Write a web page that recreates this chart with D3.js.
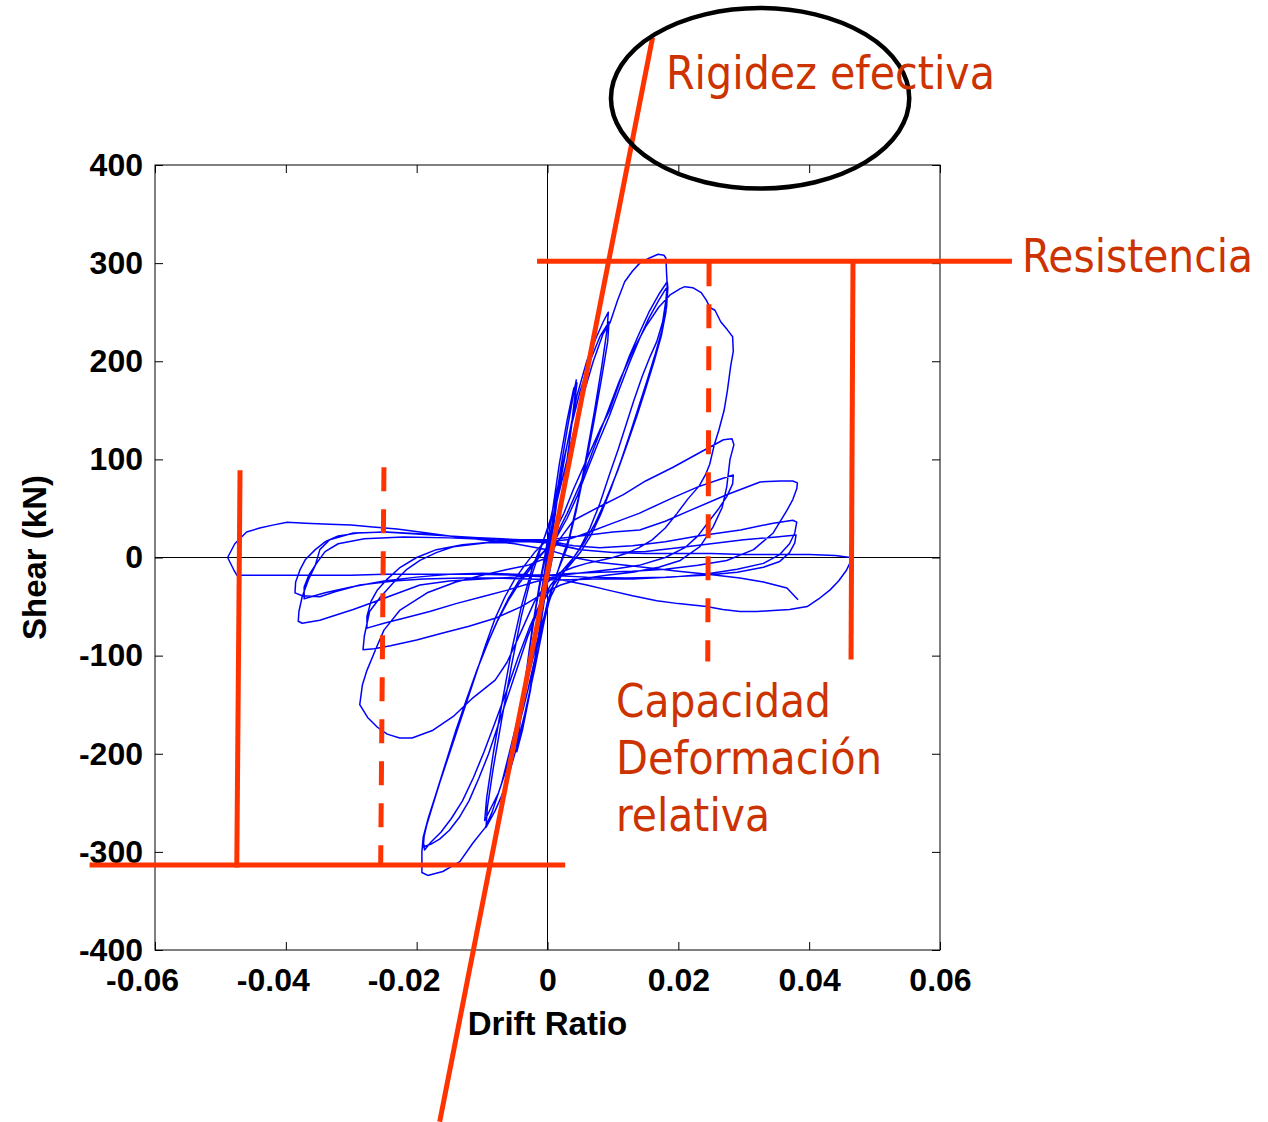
<!DOCTYPE html>
<html><head><meta charset="utf-8">
<script src="https://cdn.jsdelivr.net/npm/d3@7/dist/d3.min.js"></script>
<style>body{margin:0;background:#fff}</style>
</head><body>
<svg id="c" width="1268" height="1122"></svg>
<script>
// ---------- axes ----------
const xTicks = [-0.06, -0.04, -0.02, 0, 0.02, 0.04, 0.06];
const xTickLabels = ["-0.06", "-0.04", "-0.02", "0", "0.02", "0.04", "0.06"];
const yTicks = [-400, -300, -200, -100, 0, 100, 200, 300, 400];
const yTickLabels = ["-400", "-300", "-200", "-100", "0", "100", "200", "300", "400"];
const xTitle = "Drift Ratio";
const yTitle = "Shear (kN)";

// ---------- hysteresis (drift ratio, shear kN), in loading order ----------
const cycle1 = [[0,0],[0.0008,35],[0.0016,70],[0.0022,95],[0.0018,75],[0.001,35],[0.0003,5],[-0.0005,-25],[-0.0013,-60],[-0.0021,-95],[-0.0018,-75],[-0.001,-38],[-0.0003,-8],[0.0004,20],[0.0012,55],[0.002,88],[0.0016,65],[0.0007,25],[0,-5],[-0.0008,-40],[-0.0017,-78],[-0.0022,-98],[-0.0017,-70],[-0.0008,-30],[0,5]];
const cycle2 = [[0,5],[0.001,45],[0.002,90],[0.003,130],[0.0038,160],[0.0044,181],[0.0042,165],[0.0034,120],[0.0024,70],[0.0014,25],[0.0006,-5],[-0.0004,-40],[-0.0014,-85],[-0.0026,-135],[-0.0038,-175],[-0.0047,-198],[-0.0044,-180],[-0.0035,-130],[-0.0024,-75],[-0.0013,-30],[-0.0004,2],[0.0006,40],[0.0018,95],[0.003,140],[0.004,172],[0.0045,178],[0.0041,155],[0.003,100],[0.0018,45],[0.0007,5],[-0.0003,-30],[-0.0015,-85],[-0.0028,-140],[-0.004,-180],[-0.0048,-195],[-0.0043,-170],[-0.0032,-115],[-0.002,-60],[-0.0008,-15],[0,10]];
const cycle3 = [[0,10],[0.0015,60],[0.003,115],[0.0045,165],[0.006,200],[0.0075,225],[0.0085,240],[0.0093,250],[0.0091,232],[0.0083,195],[0.0072,150],[0.006,105],[0.0047,60],[0.0033,20],[0.002,-5],[0.0008,-30],[-0.0005,-65],[-0.002,-115],[-0.0035,-160],[-0.005,-200],[-0.0065,-235],[-0.008,-258],[-0.0094,-275],[-0.0092,-255],[-0.0083,-215],[-0.007,-165],[-0.0055,-110],[-0.004,-60],[-0.0025,-20],[-0.001,10],[0.0005,40],[0.002,85],[0.0035,130],[0.005,170],[0.0065,200],[0.008,225],[0.0094,240],[0.0092,220],[0.0082,180],[0.007,135],[0.0057,90],[0.0043,45],[0.003,10],[0.0015,-15],[0,-45],[-0.0015,-90],[-0.003,-135],[-0.0045,-175],[-0.006,-210],[-0.0075,-240],[-0.0096,-268],[-0.0093,-245],[-0.0083,-200],[-0.007,-150],[-0.0055,-95],[-0.004,-50],[-0.0023,-10],[-0.0008,15]];
const cycle4a = [[-0.0008,15],[0.001,45],[0.003,100],[0.005,155],[0.007,200],[0.0085,228],[0.0096,240],[0.0107,262],[0.0118,281],[0.013,292],[0.0141,300],[0.0155,305],[0.0169,309],[0.0178,308],[0.0181,305],[0.0182,290],[0.0183,278],[0.0181,262],[0.0176,240],[0.0167,220],[0.0157,205],[0.0145,185],[0.0132,160],[0.012,135],[0.0108,110],[0.0095,85],[0.008,55],[0.0065,30],[0.005,10],[0.0035,-5],[0.002,-20],[0.0005,-40],[-0.001,-70],[-0.0025,-110],[-0.004,-150],[-0.0055,-190],[-0.007,-230],[-0.0085,-260],[-0.0095,-275],[-0.0114,-291],[-0.0134,-310],[-0.016,-320],[-0.0183,-324],[-0.0192,-321],[-0.0192,-300],[-0.019,-285],[-0.0182,-265],[-0.017,-240],[-0.0155,-210],[-0.014,-180],[-0.0125,-150],[-0.011,-120],[-0.0095,-90],[-0.008,-62],[-0.0065,-40],[-0.005,-22],[-0.0035,-8],[-0.002,5],[-0.0005,15]];
const cycle4b = [[-0.0005,15],[0.001,25],[0.0025,45],[0.004,70],[0.006,100],[0.008,130],[0.0095,150],[0.011,178],[0.0125,205],[0.014,228],[0.0155,250],[0.017,268],[0.0183,281],[0.0184,275],[0.0182,255],[0.0175,232],[0.0165,208],[0.0152,180],[0.014,155],[0.0127,128],[0.0113,100],[0.0098,72],[0.0082,45],[0.0066,22],[0.005,5],[0.0034,-8],[0.0018,-20],[0.0002,-35],[-0.0015,-55],[-0.003,-80],[-0.0045,-110],[-0.006,-140],[-0.0075,-170],[-0.009,-200],[-0.0105,-225],[-0.012,-248],[-0.0135,-265],[-0.015,-278],[-0.0165,-287],[-0.0178,-292],[-0.019,-295],[-0.0188,-280],[-0.0178,-258],[-0.0165,-230],[-0.015,-200],[-0.0135,-170],[-0.012,-140],[-0.0105,-110],[-0.009,-85],[-0.0075,-62],[-0.006,-42],[-0.0045,-25],[-0.003,-12],[-0.0015,0],[0,10]];
const cycle4c = [[0,10],[0.0015,22],[0.003,40],[0.0045,62],[0.006,88],[0.0078,118],[0.0095,145],[0.011,172],[0.0125,198],[0.014,222],[0.0155,244],[0.017,262],[0.0181,274],[0.0183,270],[0.0181,250],[0.0174,226],[0.0163,200],[0.015,172],[0.0137,145],[0.0122,116],[0.0107,88],[0.009,60],[0.0073,35],[0.0056,15],[0.004,0],[0.0022,-14],[0.0005,-28],[-0.0012,-48],[-0.0028,-72],[-0.0045,-102],[-0.0062,-135],[-0.008,-168],[-0.0097,-198],[-0.0113,-224],[-0.013,-248],[-0.0147,-266],[-0.0163,-280],[-0.0178,-290],[-0.0188,-298],[-0.019,-288],[-0.0183,-268],[-0.017,-240],[-0.0155,-208],[-0.014,-176],[-0.0124,-145],[-0.0108,-115],[-0.0092,-88],[-0.0076,-64],[-0.006,-44],[-0.0044,-27],[-0.0028,-13],[-0.0013,0],[0,10]];
const cycle5 = [[0,10],[0.0015,25],[0.003,45],[0.005,75],[0.007,110],[0.009,145],[0.011,180],[0.013,210],[0.015,235],[0.017,255],[0.0188,268],[0.0203,274],[0.021,276],[0.0222,275],[0.0235,270],[0.0243,262],[0.0248,255],[0.0256,252],[0.0265,240],[0.0275,232],[0.0283,225],[0.0284,210],[0.028,195],[0.0275,170],[0.027,150],[0.0262,130],[0.0255,115],[0.0248,95],[0.0242,85],[0.0232,73],[0.0215,60],[0.0198,45],[0.018,30],[0.016,18],[0.014,10],[0.012,4],[0.01,0],[0.008,-3],[0.006,-6],[0.004,-10],[0.002,-15],[0,-25],[-0.002,-45],[-0.004,-75],[-0.0062,-107],[-0.008,-125],[-0.0114,-143],[-0.0144,-162],[-0.0175,-176],[-0.0207,-184],[-0.0226,-184],[-0.0245,-180],[-0.026,-173],[-0.0275,-163],[-0.0287,-150],[-0.0283,-130],[-0.0276,-115],[-0.0261,-91],[-0.025,-74],[-0.0226,-54],[-0.0184,-36],[-0.014,-25],[-0.01,-18],[-0.006,-12],[-0.003,-8],[0,0]];
const cycle6a = [[0,0],[0.002,20],[0.004,38],[0.008,52],[0.0116,64],[0.015,78],[0.0192,92],[0.0233,107],[0.0269,120],[0.0282,121],[0.0285,115],[0.0279,100],[0.0274,72],[0.0267,51],[0.0253,31],[0.0233,11],[0.0203,-3],[0.017,-10],[0.013,-15],[0.009,-18],[0.005,-22],[0.002,-28],[-0.001,-38],[-0.004,-50],[-0.008,-62],[-0.012,-70],[-0.016,-77],[-0.02,-84],[-0.024,-90],[-0.0265,-93],[-0.0282,-94],[-0.028,-80],[-0.0272,-55],[-0.0255,-40],[-0.0236,-26],[-0.0215,-12],[-0.0195,-3],[-0.017,5],[-0.0144,11],[-0.0093,15],[-0.005,16],[0,16]];
const cycle6b = [[0,16],[0.003,18],[0.006,25],[0.01,35],[0.014,45],[0.0192,61],[0.023,72],[0.0265,80],[0.0284,84],[0.0283,75],[0.0274,62],[0.0262,50],[0.0248,38],[0.023,22],[0.021,10],[0.018,0],[0.014,-8],[0.01,-12],[0.006,-15],[0.002,-18],[-0.002,-25],[-0.006,-33],[-0.01,-40],[-0.014,-47],[-0.018,-55],[-0.022,-62],[-0.025,-67],[-0.0276,-72],[-0.0276,-60],[-0.027,-45],[-0.026,-33],[-0.0245,-22],[-0.0225,-10],[-0.02,0],[-0.017,8],[-0.013,13],[-0.008,16],[-0.004,18],[0,18]];
const cycle7a = [[0,18],[0.005,22],[0.01,26],[0.0141,28],[0.018,37],[0.0218,48],[0.0274,64],[0.0325,77],[0.0356,78],[0.0375,78],[0.0382,76],[0.0381,70],[0.0375,59],[0.0366,48],[0.0345,25],[0.0315,8],[0.0274,-3],[0.023,-8],[0.018,-12],[0.013,-14],[0.008,-15],[0.004,-16],[0,-18],[-0.005,-20],[-0.01,-22],[-0.015,-24],[-0.0195,-28],[-0.0256,-43],[-0.0297,-53],[-0.0348,-64],[-0.0375,-67],[-0.0381,-65],[-0.038,-55],[-0.0375,-40],[-0.0365,-22],[-0.0355,-8],[-0.0348,8],[-0.0333,18],[-0.0297,25],[-0.0246,26],[-0.019,24],[-0.013,21],[-0.007,19],[0,17]];
const cycle7b = [[0,17],[0.004,12],[0.008,10],[0.013,12],[0.018,16],[0.023,22],[0.0295,28],[0.0345,35],[0.0375,38],[0.0381,36],[0.0378,25],[0.037,14],[0.0355,3],[0.033,-6],[0.029,-12],[0.024,-17],[0.019,-20],[0.013,-22],[0.007,-22],[0.002,-23],[-0.003,-22],[-0.008,-21],[-0.013,-21],[-0.019,-22],[-0.0235,-24],[-0.0287,-28],[-0.0325,-35],[-0.0348,-40],[-0.0375,-39],[-0.0386,-36],[-0.0385,-25],[-0.0378,-12],[-0.037,-2],[-0.0355,8],[-0.034,16],[-0.032,22],[-0.029,25],[-0.025,26],[-0.02,24],[-0.015,22],[-0.01,20],[-0.005,18],[0,16]];
const cycle7c = [[0,16],[0.005,8],[0.01,5],[0.015,6],[0.02,10],[0.025,14],[0.03,18],[0.035,21],[0.038,23],[0.0378,15],[0.037,5],[0.0355,-4],[0.033,-10],[0.029,-15],[0.024,-18],[0.018,-20],[0.012,-21],[0.006,-20],[0,-18],[-0.005,-17],[-0.01,-16],[-0.015,-17],[-0.02,-20],[-0.025,-24],[-0.03,-30],[-0.034,-36],[-0.0372,-42],[-0.0372,-30],[-0.0365,-18],[-0.0352,-5],[-0.034,6],[-0.032,14],[-0.028,19],[-0.022,21],[-0.015,20],[-0.008,18],[0,15]];
const cycle8 = [[0,15],[0.005,8],[0.01,5],[0.015,4],[0.02,4],[0.025,4],[0.03,3],[0.035,3],[0.04,3],[0.044,2],[0.0463,0],[0.0462,-6],[0.0457,-13],[0.0445,-24],[0.0432,-33],[0.0415,-42],[0.0397,-50],[0.037,-53],[0.0345,-54],[0.032,-55],[0.0294,-55],[0.0268,-53],[0.0243,-50],[0.02,-47],[0.0167,-44],[0.013,-39],[0.0091,-33],[0.006,-28],[0.003,-24],[0,-20],[-0.005,-18],[-0.01,-17],[-0.015,-17],[-0.02,-17],[-0.025,-17],[-0.03,-18],[-0.035,-18],[-0.0398,-18],[-0.044,-18],[-0.0475,-18],[-0.048,-12],[-0.0489,0],[-0.0478,14],[-0.046,26],[-0.044,30],[-0.042,33],[-0.0398,36],[-0.037,35],[-0.0333,34],[-0.03,33],[-0.0267,31],[-0.023,29],[-0.0195,26],[-0.015,22],[-0.01,18],[-0.005,14],[0,8],[0.004,0],[0.008,-5],[0.012,-8],[0.016,-11],[0.02,-14],[0.0245,-17],[0.0294,-21],[0.033,-25],[0.0366,-31],[0.0383,-43]];

// ---------- annotation lines (drift, shear) ----------
const stiffnessLine = [[0.01606, 530], [-0.01648, -575]];
const strengthPos = [[-0.0016, 302], [0.071, 302]];
const strengthNeg = [[-0.070, -313.5], [0.0027, -313.5]];
const capacityNegSolid = [[-0.0470, 89], [-0.0475, -316]];
const capacityNegDashed = [[-0.0250, 92], [-0.0255, -313]];
const capacityPosDashed = [[0.0247, 301], [0.0245, -106]];
const capacityPosSolid = [[0.0467, 301], [0.0464, -104]];
const ellipseCenter = [0.0325, 468];
const ellipseRadii = [0.0228, 92];

const labelRigidez = "Rigidez efectiva";
const labelResistencia = "Resistencia";
const labelCapacidad = ["Capacidad", "Deformación", "relativa"];

// ---------- drawing ----------
const svg = d3.select("#c");
svg.append("rect").attr("width", 1268).attr("height", 1122).attr("fill", "#fff");

const x = d3.scaleLinear().domain([-0.06, 0.06]).range([155, 940]);
const y = d3.scaleLinear().domain([-400, 400]).range([950, 165]);

const tickFont = "'Liberation Sans', Arial, Helvetica, sans-serif";

// zero lines
svg.append("line").attr("x1", x(0)).attr("x2", x(0)).attr("y1", y(400)).attr("y2", y(-400))
  .attr("stroke", "#000").attr("stroke-width", 1);
svg.append("line").attr("x1", x(-0.06)).attr("x2", x(0.06)).attr("y1", y(0)).attr("y2", y(0))
  .attr("stroke", "#000").attr("stroke-width", 1);

// axes
const gx = svg.append("g").attr("transform", `translate(0,${y(-400)})`)
  .call(d3.axisBottom(x).tickValues(xTicks).tickSize(-8).tickPadding(18)
    .tickFormat((d, i) => xTickLabels[i]));
gx.selectAll("text").attr("dx", d => d < 0 ? -13 : 0);
const gy = svg.append("g").attr("transform", `translate(${x(-0.06)},0)`)
  .call(d3.axisLeft(y).tickValues(yTicks).tickSize(-8).tickPadding(12)
    .tickFormat((d, i) => yTickLabels[i]));
const gt = svg.append("g").attr("transform", `translate(0,${y(400)})`)
  .call(d3.axisTop(x).tickValues(xTicks).tickSize(-8).tickFormat(""));
const gr = svg.append("g").attr("transform", `translate(${x(0.06)},0)`)
  .call(d3.axisRight(y).tickValues(yTicks).tickSize(-8).tickFormat(""));
[gx, gy, gt, gr].forEach(g => {
  g.select(".domain").remove();
  g.selectAll(".tick line").attr("stroke", "#000").attr("stroke-width", 1);
  g.selectAll("text").attr("font-family", tickFont).attr("font-size", 32)
    .attr("font-weight", "bold").attr("fill", "#000");
});
svg.append("rect").attr("x", x(-0.06)).attr("y", y(400))
  .attr("width", x(0.06) - x(-0.06)).attr("height", y(-400) - y(400))
  .attr("fill", "none").attr("stroke", "#000").attr("stroke-width", 1);

// axis titles
svg.append("text").attr("x", x(0)).attr("y", 1035).attr("text-anchor", "middle")
  .attr("font-family", tickFont).attr("font-size", 33).attr("font-weight", "bold").text(xTitle);
svg.append("text").attr("transform", `translate(46,${y(0)}) rotate(-90)`).attr("text-anchor", "middle")
  .attr("font-family", tickFont).attr("font-size", 33).attr("font-weight", "bold").text(yTitle);

// hysteresis loops
const cycles = [cycle1, cycle2, cycle3, cycle4a, cycle4b, cycle4c, cycle5, cycle6a, cycle6b, cycle7a, cycle7b, cycle7c, cycle8];
const line = d3.line().x(d => x(d[0])).y(d => y(d[1])).curve(d3.curveLinear);
svg.append("path").datum(cycles.flat())
  .attr("d", line).attr("fill", "none").attr("stroke", "#0000ff")
  .attr("stroke-width", 1.5).attr("stroke-linejoin", "round");

// annotation lines
const red = "#ff3300";
function seg(pts, dashed) {
  svg.append("path").datum(pts).attr("d", line).attr("fill", "none")
    .attr("stroke", red).attr("stroke-width", 5)
    .attr("stroke-dasharray", dashed ? "24 18" : null);
}
seg(strengthPos); seg(strengthNeg);
seg(capacityNegSolid); seg(capacityPosSolid);
seg(capacityNegDashed, true); seg(capacityPosDashed, true);
seg(stiffnessLine);

// ellipse
svg.append("ellipse").attr("cx", x(ellipseCenter[0])).attr("cy", y(ellipseCenter[1]))
  .attr("rx", x(ellipseRadii[0]) - x(0)).attr("ry", y(0) - y(ellipseRadii[1]))
  .attr("fill", "none").attr("stroke", "#000").attr("stroke-width", 4.5);

// annotation text
const annFont = "'DejaVu Sans Condensed', 'DejaVu Sans', Verdana, sans-serif";
const textColor = "#cc3300";
function ann(t, px, py, w) {
  svg.append("text").attr("x", px).attr("y", py).attr("font-family", annFont)
    .attr("font-stretch", "condensed").attr("font-size", 47).attr("fill", textColor)
    .attr("textLength", w).attr("lengthAdjust", "spacingAndGlyphs").text(t);
}
ann(labelRigidez, 666, 89, 329);
ann(labelResistencia, 1022, 272, 231);
ann(labelCapacidad[0], 616, 717, 215);
ann(labelCapacidad[1], 616, 774, 266);
ann(labelCapacidad[2], 616, 831, 154);
</script>
</body></html>
